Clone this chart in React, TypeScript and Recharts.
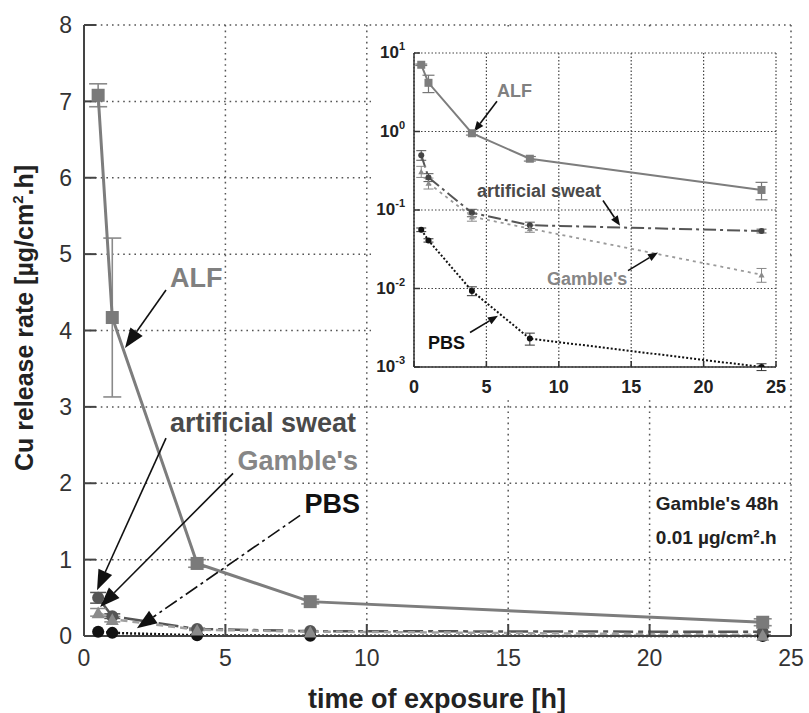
import React from "react";
import {
  ComposedChart,
  Line,
  XAxis,
  YAxis,
  CartesianGrid,
  ErrorBar,
  ReferenceLine,
  ReferenceDot,
} from "recharts";

const FONT = "'Liberation Sans', Arial, Helvetica, sans-serif";

// exposure times [h]
const hours = [0.5, 1, 4, 8, 24];

// Cu release rate [ug/cm2.h] for each test medium (+ error)
const alf = [7.08, 4.17, 0.95, 0.45, 0.18];
const alfErr = [0.15, 1.04, 0.05, 0.03, 0.045];
const sweat = [0.5, 0.26, 0.092, 0.064, 0.054];
const sweatErr = [0.07, 0.03, 0.01, 0.006, 0.003];
const gambles = [0.31, 0.22, 0.082, 0.058, 0.015];
const gamblesErr = [0.05, 0.035, 0.01, 0.006, 0.003];
const pbs = [0.056, 0.041, 0.0093, 0.0023, 0.001];
const pbsErr = [0.003, 0.002, 0.0012, 0.0004, 0.0001];

const mainXTicks = [0, 5, 10, 15, 20, 25];
const mainYTicks = [0, 1, 2, 3, 4, 5, 6, 7, 8];
const insetXTicks = [0, 5, 10, 15, 20, 25];
const insetYTicks = [0.001, 0.01, 0.1, 1, 10];

// annotation texts (x, baseline y in data units)
const mainLabels = [
  { text: "ALF", x: 3.04, y: 4.57, color: "#808080", anchor: "start" },
  { text: "artificial sweat", x: 9.62, y: 2.67, color: "#4a4a4a", anchor: "end" },
  { text: "Gamble's", x: 9.69, y: 2.17, color: "#868686", anchor: "end" },
  { text: "PBS", x: 9.76, y: 1.61, color: "#111", anchor: "end" },
];
const mainArrows = [
  { from: [2.9, 4.53], to: [1.45, 3.77], dash: "" },
  { from: [2.9, 2.59], to: [0.46, 0.6], dash: "" },
  { from: [5.27, 2.13], to: [0.57, 0.38], dash: "" },
  { from: [7.64, 1.58], to: [1.87, 0.1], dash: "14 4 3 4" },
];
const noteLines = [
  { text: "Gamble's 48h", x: 20.22, y: 1.65 },
  { text: "0.01 µg/cm².h", x: 20.22, y: 1.2 },
];

const insetLabels = [
  { text: "ALF", x: 5.73, y: 2.74, color: "#808080", anchor: "start" },
  { text: "artificial sweat", x: 4.35, y: 0.148, color: "#4a4a4a", anchor: "start" },
  { text: "Gamble's", x: 9.19, y: 0.0112, color: "#868686", anchor: "start" },
  { text: "PBS", x: 0.97, y: 0.0017, color: "#111", anchor: "start" },
];
const insetArrows = [
  { from: [5.73, 2.43], to: [4.15, 1.0] },
  { from: [13.05, 0.132], to: [14.23, 0.063] },
  { from: [14.78, 0.0169], to: [16.85, 0.0288] },
  { from: [3.87, 0.00275], to: [5.8, 0.0045] },
];

const rows = hours.map((h, i) => ({
  h,
  alf: alf[i],
  alfErr: alfErr[i],
  sweat: sweat[i],
  sweatErr: sweatErr[i],
  gambles: gambles[i],
  gamblesErr: gamblesErr[i],
  pbs: pbs[i],
  pbsErr: pbsErr[i],
}));

const squareDot = (size: number, fill: string) => (p: any) =>
  p.cx == null ? (
    <g key={`s${p.index}`} />
  ) : (
    <rect key={`s${p.index}`} x={p.cx - size / 2} y={p.cy - size / 2} width={size} height={size} fill={fill} />
  );

const circleDot = (r: number, fill: string) => (p: any) =>
  p.cx == null ? <g key={`c${p.index}`} /> : <circle key={`c${p.index}`} cx={p.cx} cy={p.cy} r={r} fill={fill} />;

const triDot = (size: number, fill: string) => (p: any) => {
  if (p.cx == null) return <g key={`t${p.index}`} />;
  const h = size * 0.9;
  return (
    <polygon
      key={`t${p.index}`}
      points={`${p.cx},${p.cy - h / 2} ${p.cx - size / 2},${p.cy + h / 2} ${p.cx + size / 2},${p.cy + h / 2}`}
      fill={fill}
    />
  );
};

const arrowShape = (head: number, width: number, lw: number, dash?: string) => (p: any) => {
  const { x1, y1, x2, y2 } = p;
  if ([x1, y1, x2, y2].some((v) => v == null || isNaN(v))) return <g />;
  const a = Math.atan2(y2 - y1, x2 - x1);
  const bx = x2 - head * Math.cos(a);
  const by = y2 - head * Math.sin(a);
  const nx = (-Math.sin(a) * width) / 2;
  const ny = (Math.cos(a) * width) / 2;
  return (
    <g>
      <line x1={x1} y1={y1} x2={bx} y2={by} stroke="#111" strokeWidth={lw} strokeDasharray={dash || undefined} />
      <polygon points={`${x2},${y2} ${bx + nx},${by + ny} ${bx - nx},${by - ny}`} fill="#111" />
    </g>
  );
};

const textShape = (text: string, color: string, anchor: string, size: number) => (p: any) => (
  <text
    x={p.cx}
    y={p.cy}
    textAnchor={anchor}
    fontFamily={FONT}
    fontWeight="bold"
    fontSize={size}
    fill={color}
  >
    {text}
  </text>
);

const EmptyTick = () => <g />;

const PowTick = (p: any) => {
  const exp = Math.round(Math.log10(p.payload.value));
  return (
    <text x={p.x} y={p.y} dy={5} textAnchor="end" fontFamily={FONT} fontWeight="bold" fontSize={17} fill="#222">
      10
      <tspan dy={-8} fontSize={11}>
        {exp}
      </tspan>
    </text>
  );
};

const Inset = () => (
  <ComposedChart width={419} height={372} data={rows} margin={{ top: 26, right: 14, bottom: 2, left: 0 }}>
    <CartesianGrid stroke="#444" strokeDasharray="1.5 2" strokeWidth={1.2} />
    <XAxis
      dataKey="h"
      type="number"
      domain={[0, 25]}
      ticks={insetXTicks}
      interval={0}
      height={30}
      tickSize={-6}
      tickMargin={19}
      stroke="#333"
      strokeWidth={1.5}
      tick={{ fill: "#222", fontSize: 18, fontWeight: "bold", fontFamily: FONT }}
    />
    <XAxis
      xAxisId="top"
      orientation="top"
      type="number"
      domain={[0, 25]}
      ticks={insetXTicks}
      interval={0}
      height={0}
      tickSize={-6}
      stroke="#333"
      strokeWidth={1.5}
      tick={EmptyTick}
    />
    <YAxis
      type="number"
      scale="log"
      domain={[0.001, 10]}
      allowDataOverflow
      ticks={insetYTicks}
      interval={0}
      width={43}
      tickSize={-6}
      tickMargin={15}
      stroke="#333"
      strokeWidth={1.5}
      tick={PowTick}
    />
    <YAxis
      yAxisId="right"
      orientation="right"
      type="number"
      scale="log"
      domain={[0.001, 10]}
      allowDataOverflow
      ticks={insetYTicks}
      interval={0}
      width={0}
      tickSize={-6}
      stroke="#333"
      strokeWidth={1.5}
      tick={EmptyTick}
    />
    <Line
      dataKey="pbs"
      stroke="#111"
      strokeWidth={2}
      strokeDasharray="2 2"
      dot={circleDot(3, "#111")}
      activeDot={false}
      isAnimationActive={false}
    >
      <ErrorBar dataKey="pbsErr" width={5} stroke="#333" strokeWidth={1} direction="y" />
    </Line>
    <Line
      dataKey="sweat"
      stroke="#555"
      strokeWidth={2}
      strokeDasharray="13 4 3 4"
      dot={circleDot(3, "#444")}
      activeDot={false}
      isAnimationActive={false}
    >
      <ErrorBar dataKey="sweatErr" width={5} stroke="#555" strokeWidth={1} direction="y" />
    </Line>
    <Line
      dataKey="gambles"
      stroke="#9a9a9a"
      strokeWidth={1.8}
      strokeDasharray="3 4"
      dot={triDot(6, "#8a8a8a")}
      activeDot={false}
      isAnimationActive={false}
    >
      <ErrorBar dataKey="gamblesErr" width={5} stroke="#888" strokeWidth={1} direction="y" />
    </Line>
    <Line
      dataKey="alf"
      stroke="#7d7d7d"
      strokeWidth={2}
      dot={squareDot(8, "#7d7d7d")}
      activeDot={false}
      isAnimationActive={false}
    >
      <ErrorBar dataKey="alfErr" width={6} stroke="#777" strokeWidth={1.2} direction="y" />
    </Line>
    {insetArrows.map((a, i) => (
      <ReferenceLine
        key={`ia${i}`}
        segment={[
          { x: a.from[0], y: a.from[1] },
          { x: a.to[0], y: a.to[1] },
        ]}
        shape={arrowShape(10, 8, 1.6)}
      />
    ))}
    {insetLabels.map((l, i) => (
      <ReferenceDot key={`il${i}`} x={l.x} y={l.y} r={0} shape={textShape(l.text, l.color, l.anchor, 18)} />
    ))}
  </ComposedChart>
);

const App = () => (
  <div style={{ position: "absolute", left: 0, top: 0, width: 809, height: 713, background: "#fff" }}>
    <ComposedChart width={809} height={713} data={rows} margin={{ top: 25, right: 18, bottom: 0, left: 0 }}>
      <CartesianGrid stroke="#555" strokeDasharray="1.6 4" strokeWidth={1.5} />
      <XAxis
        dataKey="h"
        type="number"
        domain={[0, 25]}
        ticks={mainXTicks}
        interval={0}
        height={77}
        tickSize={-12}
        tickMargin={26}
        stroke="#444"
        strokeWidth={2}
        tick={{ fill: "#333", fontSize: 23, fontFamily: FONT }}
      />
      <XAxis
        xAxisId="top"
        orientation="top"
        type="number"
        domain={[0, 25]}
        ticks={mainXTicks}
        interval={0}
        height={0}
        tickSize={-12}
        stroke="#444"
        strokeWidth={2}
        tick={EmptyTick}
      />
      <YAxis
        type="number"
        domain={[0, 8]}
        ticks={mainYTicks}
        interval={0}
        width={84}
        tickSize={-12}
        tickMargin={24}
        stroke="#444"
        strokeWidth={2}
        tick={{ fill: "#333", fontSize: 23, fontFamily: FONT }}
      />
      <YAxis
        yAxisId="right"
        orientation="right"
        type="number"
        domain={[0, 8]}
        ticks={mainYTicks}
        interval={0}
        width={0}
        tickSize={-12}
        stroke="#444"
        strokeWidth={2}
        tick={EmptyTick}
      />
      <Line
        dataKey="pbs"
        stroke="#111"
        strokeWidth={2.5}
        strokeDasharray="2 2"
        dot={circleDot(6, "#111")}
        activeDot={false}
        isAnimationActive={false}
      />
      <Line
        dataKey="sweat"
        stroke="#555"
        strokeWidth={2.5}
        strokeDasharray="20 5 5 5"
        dot={circleDot(6, "#555")}
        activeDot={false}
        isAnimationActive={false}
      >
        <ErrorBar dataKey="sweatErr" width={8} stroke="#555" strokeWidth={1.5} direction="y" />
      </Line>
      <Line
        dataKey="gambles"
        stroke="#a0a0a0"
        strokeWidth={2.5}
        strokeDasharray="7 5"
        dot={triDot(13, "#8a8a8a")}
        activeDot={false}
        isAnimationActive={false}
      >
        <ErrorBar dataKey="gamblesErr" width={8} stroke="#888" strokeWidth={1.5} direction="y" />
      </Line>
      <Line
        dataKey="alf"
        stroke="#7d7d7d"
        strokeWidth={3}
        dot={squareDot(13, "#7a7a7a")}
        activeDot={false}
        isAnimationActive={false}
      >
        <ErrorBar dataKey="alfErr" width={9} stroke="#8a8a8a" strokeWidth={1.6} direction="y" />
      </Line>
      {mainArrows.map((a, i) => (
        <ReferenceLine
          key={`ma${i}`}
          segment={[
            { x: a.from[0], y: a.from[1] },
            { x: a.to[0], y: a.to[1] },
          ]}
          shape={arrowShape(20, 15, 1.6, a.dash)}
        />
      ))}
      {mainLabels.map((l, i) => (
        <ReferenceDot key={`ml${i}`} x={l.x} y={l.y} r={0} shape={textShape(l.text, l.color, l.anchor, 27)} />
      ))}
      {noteLines.map((l, i) => (
        <ReferenceDot key={`nl${i}`} x={l.x} y={l.y} r={0} shape={textShape(l.text, "#222", "start", 19)} />
      ))}
      <text x={437} y={708} textAnchor="middle" fontFamily={FONT} fontWeight="bold" fontSize={27} fill="#222">
        time of exposure [h]
      </text>
      <text
        transform="translate(33,318) rotate(-90)"
        textAnchor="middle"
        fontFamily={FONT}
        fontWeight="bold"
        fontSize={25}
        fill="#222"
      >
        Cu release rate [µg/cm
        <tspan dy={-10} fontSize={15}>
          2
        </tspan>
        <tspan dy={10}>.h]</tspan>
      </text>
    </ComposedChart>
    <div style={{ position: "absolute", left: 371, top: 27, width: 419, height: 372, background: "#fff" }}>
      <Inset />
    </div>
  </div>
);

export default App;
